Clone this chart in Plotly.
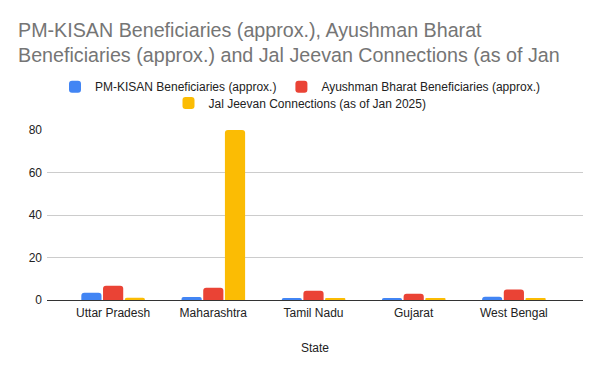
import plotly.graph_objects as go

states = ["Uttar Pradesh", "Maharashtra", "Tamil Nadu", "Gujarat", "West Bengal"]
pm_kisan = [3.4, 1.4, 1.0, 1.0, 1.5]
ayushman = [6.7, 5.8, 4.4, 3.0, 4.9]
jal_jeevan = [1.1, 80, 0.5, 0.5, 0.6]
y_ticks = [0, 20, 40, 60, 80]

names = ["PM-KISAN Beneficiaries (approx.)", "Ayushman Bharat Beneficiaries (approx.)",
         "Jal Jeevan Connections (as of Jan 2025)"]
colors = ["#4285F4", "#EA4335", "#FBBC04"]
legends = ["legend", "legend", "legend2"]

FONT = "Liberation Sans, Arial, sans-serif"

fig = go.Figure()
for name, vals, c, lg in zip(names, [pm_kisan, ayushman, jal_jeevan], colors, legends):
    fig.add_trace(go.Bar(x=states, y=vals, name=name, legend=lg,
                         marker=dict(color=c, cornerradius=3, line_width=0)))

legend_common = dict(orientation="h", xref="container", yref="container", xanchor="center",
                     yanchor="middle", font=dict(size=12, color="#222"), itemwidth=30,
                     bgcolor="rgba(0,0,0,0)")

fig.update_layout(
    width=600, height=371,
    paper_bgcolor="white", plot_bgcolor="white",
    font=dict(family=FONT, color="#222"),
    title=dict(text="PM-KISAN Beneficiaries (approx.), Ayushman Bharat<br>Beneficiaries (approx.) and Jal Jeevan Connections (as of Jan",
               x=0.03, xanchor="left", xref="container", y=0.901, yanchor="top", yref="container",
               pad=dict(l=0, r=0, t=0, b=0),
               font=dict(family=FONT, size=19.7, color="#757575")),
    margin=dict(l=47, r=17, t=130, b=71),
    barmode="group", bargap=0.35, bargroupgap=0.07,
    legend=dict(x=0.5, y=1 - 86.7 / 371, **legend_common),
    legend2=dict(x=0.5, y=1 - 103 / 371, **legend_common),
    showlegend=True,
    xaxis=dict(range=[-0.66, 4.69], showgrid=False, tickfont=dict(size=12, color="#222"),
               title=dict(text="State", font=dict(size=12, color="#222"), standoff=24),
               ticks="", showline=False, automargin=False, ticklabelstandoff=4),
    yaxis=dict(range=[0, 80], tickvals=y_ticks, gridcolor="#CCCCCC", gridwidth=1,
               zeroline=True, zerolinecolor="#333333", zerolinewidth=1, ticklabelstandoff=4,
               tickfont=dict(size=12, color="#222"), ticks="", showline=False, automargin=False),
)
fig.write_html("out.html", config={"displayModeBar": False},
               post_script="document.body.style.margin='0';")
